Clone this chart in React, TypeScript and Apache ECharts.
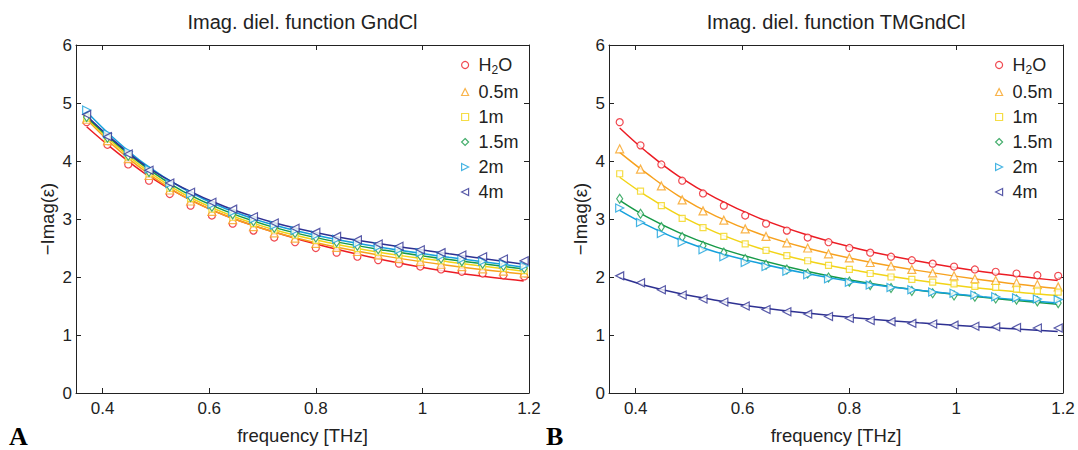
import React, { useEffect, useRef } from "react";
import * as echarts from "echarts";

const names = ["H2O", "0.5m", "1m", "1.5m", "2m", "4m"];
const colors = ["#ec1c24", "#f7a11e", "#f2d418", "#179a48", "#16a1dc", "#2e3192"];
const symbols = [
  "circle",
  "triangle",
  "rect",
  "diamond",
  "path://M0,0L10,5L0,10Z",
  "path://M10,0L0,5L10,10Z",
];
const symbolSizes: any[] = [7, 8, 6, [6, 9], 8, 8];

const freq = [0.370, 0.409, 0.448, 0.487, 0.526, 0.565, 0.605, 0.644, 0.683, 0.722, 0.761, 0.800, 0.839, 0.878, 0.917, 0.956, 0.996, 1.035, 1.074, 1.113, 1.152, 1.191];
const fitFreq = [0.37, 0.42, 0.48, 0.55, 0.63, 0.72, 0.82, 0.93, 1.05, 1.19];

// GndCl (panel A) measured points
const gH2O = [4.67, 4.28, 3.94, 3.66, 3.43, 3.23, 3.06, 2.92, 2.80, 2.68, 2.60, 2.50, 2.42, 2.35, 2.29, 2.23, 2.18, 2.13, 2.09, 2.06, 2.03, 2.01];
const g05 = [4.72, 4.35, 4.04, 3.75, 3.50, 3.31, 3.13, 2.99, 2.87, 2.76, 2.67, 2.58, 2.51, 2.44, 2.38, 2.32, 2.27, 2.22, 2.18, 2.14, 2.10, 2.07];
const g1 = [4.74, 4.38, 4.07, 3.78, 3.53, 3.35, 3.17, 3.03, 2.92, 2.81, 2.72, 2.63, 2.56, 2.49, 2.43, 2.38, 2.33, 2.28, 2.23, 2.19, 2.15, 2.11];
const g15 = [4.76, 4.40, 4.09, 3.81, 3.56, 3.38, 3.21, 3.08, 2.96, 2.85, 2.76, 2.68, 2.60, 2.54, 2.48, 2.42, 2.37, 2.32, 2.27, 2.23, 2.19, 2.15];
const g2 = [4.88, 4.47, 4.16, 3.86, 3.61, 3.43, 3.25, 3.12, 3.00, 2.89, 2.80, 2.72, 2.65, 2.58, 2.52, 2.47, 2.42, 2.36, 2.31, 2.27, 2.23, 2.19];
const g4 = [4.80, 4.42, 4.12, 3.84, 3.62, 3.46, 3.29, 3.17, 3.04, 2.93, 2.84, 2.77, 2.70, 2.64, 2.57, 2.53, 2.47, 2.42, 2.38, 2.35, 2.31, 2.28];

// GndCl fits
const gFitH2O = [4.59, 4.20, 3.78, 3.40, 3.06, 2.78, 2.52, 2.29, 2.09, 1.93];
const gFit05 = [4.72, 4.27, 3.82, 3.40, 3.06, 2.78, 2.55, 2.36, 2.20, 2.05];
const gFit1 = [4.74, 4.31, 3.86, 3.44, 3.10, 2.82, 2.60, 2.41, 2.26, 2.10];
const gFit15 = [4.76, 4.34, 3.90, 3.48, 3.14, 2.86, 2.64, 2.46, 2.30, 2.14];
const gFit2 = [4.85, 4.40, 3.94, 3.53, 3.18, 2.90, 2.68, 2.50, 2.34, 2.17];
const gFit4 = [4.78, 4.36, 3.92, 3.54, 3.21, 2.94, 2.73, 2.56, 2.40, 2.22];

// TMGndCl (panel B) measured points
const tH2O = [4.67, 4.27, 3.94, 3.66, 3.44, 3.23, 3.06, 2.92, 2.80, 2.68, 2.60, 2.50, 2.42, 2.35, 2.29, 2.23, 2.18, 2.13, 2.09, 2.06, 2.03, 2.02];
const t05 = [4.21, 3.86, 3.57, 3.33, 3.14, 2.98, 2.83, 2.70, 2.59, 2.50, 2.40, 2.33, 2.25, 2.19, 2.13, 2.07, 2.02, 1.97, 1.94, 1.90, 1.87, 1.83];
const t1 = [3.78, 3.48, 3.23, 3.01, 2.85, 2.70, 2.57, 2.46, 2.37, 2.28, 2.20, 2.13, 2.06, 2.00, 1.96, 1.91, 1.88, 1.84, 1.82, 1.79, 1.76, 1.74];
const t15 = [3.35, 3.09, 2.86, 2.69, 2.54, 2.42, 2.31, 2.21, 2.13, 2.06, 1.99, 1.92, 1.86, 1.81, 1.76, 1.72, 1.68, 1.66, 1.63, 1.61, 1.58, 1.55];
const t2 = [3.19, 2.94, 2.75, 2.60, 2.47, 2.35, 2.25, 2.18, 2.10, 2.04, 1.97, 1.91, 1.86, 1.82, 1.78, 1.74, 1.72, 1.69, 1.66, 1.64, 1.62, 1.61];
const t4 = [2.02, 1.90, 1.78, 1.69, 1.62, 1.57, 1.50, 1.44, 1.40, 1.36, 1.32, 1.29, 1.25, 1.23, 1.20, 1.19, 1.17, 1.15, 1.14, 1.13, 1.12, 1.12];

// TMGndCl fits
const tFitH2O = [4.57, 4.16, 3.74, 3.36, 3.02, 2.73, 2.48, 2.27, 2.09, 1.94];
const tFit05 = [4.15, 3.79, 3.40, 3.05, 2.75, 2.50, 2.29, 2.11, 1.95, 1.80];
const tFit1 = [3.72, 3.40, 3.07, 2.77, 2.50, 2.28, 2.10, 1.94, 1.80, 1.68];
const tFit15 = [3.32, 3.04, 2.77, 2.52, 2.30, 2.10, 1.92, 1.77, 1.65, 1.53];
const tFit2 = [3.15, 2.90, 2.65, 2.43, 2.24, 2.06, 1.90, 1.77, 1.66, 1.55];
const tFit4 = [1.99, 1.85, 1.72, 1.60, 1.48, 1.38, 1.29, 1.21, 1.14, 1.06];

const xTicks = [0.4, 0.6, 0.8, 1, 1.2];
const titles = ["Imag. diel. function GndCl", "Imag. diel. function TMGndCl"];
const panelLetters = ["A", "B"];

const panels = [
  { pts: [gH2O, g05, g1, g15, g2, g4], fits: [gFitH2O, gFit05, gFit1, gFit15, gFit2, gFit4] },
  { pts: [tH2O, t05, t1, t15, t2, t4], fits: [tFitH2O, tFit05, tFit1, tFit15, tFit2, tFit4] },
];

const FONT = "Liberation Sans, Arial, Helvetica, sans-serif";
const AX = "#222";
const grids = [
  { left: 76, top: 45, width: 453, height: 358 },
  { left: 609, top: 45, width: 454, height: 358 },
];

export default function App() {
  const ref = useRef<HTMLDivElement>(null);
  useEffect(() => {
    if (!ref.current) return;
    const chart = echarts.init(ref.current, undefined, { renderer: "svg" });

    const xAxes: any[] = [];
    const yAxes: any[] = [];
    [0, 1].forEach((g) => {
      xAxes.push({
        gridIndex: g, type: "value", min: 0.35, max: 1.2, position: "bottom",
        name: "frequency [THz]", nameLocation: "middle", nameGap: 33,
        nameTextStyle: { fontFamily: FONT, fontSize: 18.5, color: AX },
        axisLine: { show: true, onZero: false, lineStyle: { color: AX, width: 1 } },
        axisTick: { show: true, inside: true, length: 5, customValues: xTicks, lineStyle: { color: AX } },
        axisLabel: { show: true, customValues: xTicks, margin: 7, fontFamily: FONT, fontSize: 17, color: AX, formatter: (v: number) => String(v) },
        splitLine: { show: false },
      });
    });
    [0, 1].forEach((g) => {
      xAxes.push({
        gridIndex: g, type: "value", min: 0.35, max: 1.2, position: "top",
        axisLine: { show: true, onZero: false, lineStyle: { color: AX, width: 1 } },
        axisTick: { show: true, inside: true, length: 5, customValues: xTicks, lineStyle: { color: AX } },
        axisLabel: { show: false },
        splitLine: { show: false },
      });
    });
    [0, 1].forEach((g) => {
      yAxes.push({
        gridIndex: g, type: "value", min: 0, max: 6, interval: 1, position: "left",
        name: "\u2212Imag(\u03b5)", nameLocation: "middle", nameGap: 19,
        nameTextStyle: { fontFamily: FONT, fontSize: 18.5, color: AX },
        axisLine: { show: true, onZero: false, lineStyle: { color: AX, width: 1 } },
        axisTick: { show: true, inside: true, length: 5, lineStyle: { color: AX } },
        axisLabel: { margin: 4, fontFamily: FONT, fontSize: 17, color: AX },
        splitLine: { show: false },
      });
    });
    [0, 1].forEach((g) => {
      yAxes.push({
        gridIndex: g, type: "value", min: 0, max: 6, interval: 1, position: "right",
        axisLine: { show: true, onZero: false, lineStyle: { color: AX, width: 1 } },
        axisTick: { show: true, inside: true, length: 5, lineStyle: { color: AX } },
        axisLabel: { show: false },
        splitLine: { show: false },
      });
    });

    const series: any[] = [];
    panels.forEach((p, g) => {
      names.forEach((n, i) => {
        series.push({
          type: "line", name: "fit " + n, xAxisIndex: g, yAxisIndex: g,
          data: fitFreq.map((f, k) => [f, p.fits[i][k]]),
          smooth: 0.4, showSymbol: false, symbol: "none", z: 2,
          lineStyle: { color: colors[i], width: 1.5 },
        });
      });
      names.forEach((n, i) => {
        series.push({
          type: "scatter", name: n, xAxisIndex: g, yAxisIndex: g,
          data: freq.map((f, k) => [f, p.pts[i][k]]),
          symbol: symbols[i], symbolSize: symbolSizes[i], z: 3,
          itemStyle: { color: "#fff", borderColor: colors[i], borderWidth: 1.2 },
        });
      });
    });

    const legendFormatter = (name: string) =>
      name === "H2O" ? "{t| H}{s|2}{t|O}" : "{t| " + name + "}";
    const legendRich = {
      t: { fontFamily: FONT, fontSize: 18, lineHeight: 16, color: AX },
      s: { fontFamily: FONT, fontSize: 12, lineHeight: 12, color: AX, padding: [10, 0, 0, 0] },
    };
    const legends = [461, 995].map((left) => ({
      show: true, orient: "vertical", left, top: 54, itemGap: 7, padding: 0,
      itemWidth: 7, itemHeight: 7, data: names, selectedMode: false,
      formatter: legendFormatter,
      itemStyle: { borderWidth: 1.2 },
      textStyle: { fontFamily: FONT, fontSize: 18, color: AX, rich: legendRich },
    }));

    chart.setOption({
      animation: false,
      backgroundColor: "#fff",
      title: titles.map((t, g) => ({
        text: t, left: grids[g].left + grids[g].width / 2, top: 12, padding: 0, textAlign: "center",
        textStyle: { fontFamily: FONT, fontSize: 20, fontWeight: "normal", color: AX },
      })),
      grid: grids,
      xAxis: xAxes,
      yAxis: yAxes,
      legend: legends,
      series,
      graphic: panelLetters.map((l, g) => ({
        type: "text", left: g === 0 ? 9 : 546, top: 423,
        style: { text: l, fontFamily: "Liberation Serif, Times New Roman, serif", fontSize: 26, fontWeight: "bold", fill: "#000" },
      })),
    });
    return () => chart.dispose();
  }, []);
  return <div ref={ref} style={{ position: "fixed", left: 0, top: 0, width: 1078, height: 450 }} />;
}
